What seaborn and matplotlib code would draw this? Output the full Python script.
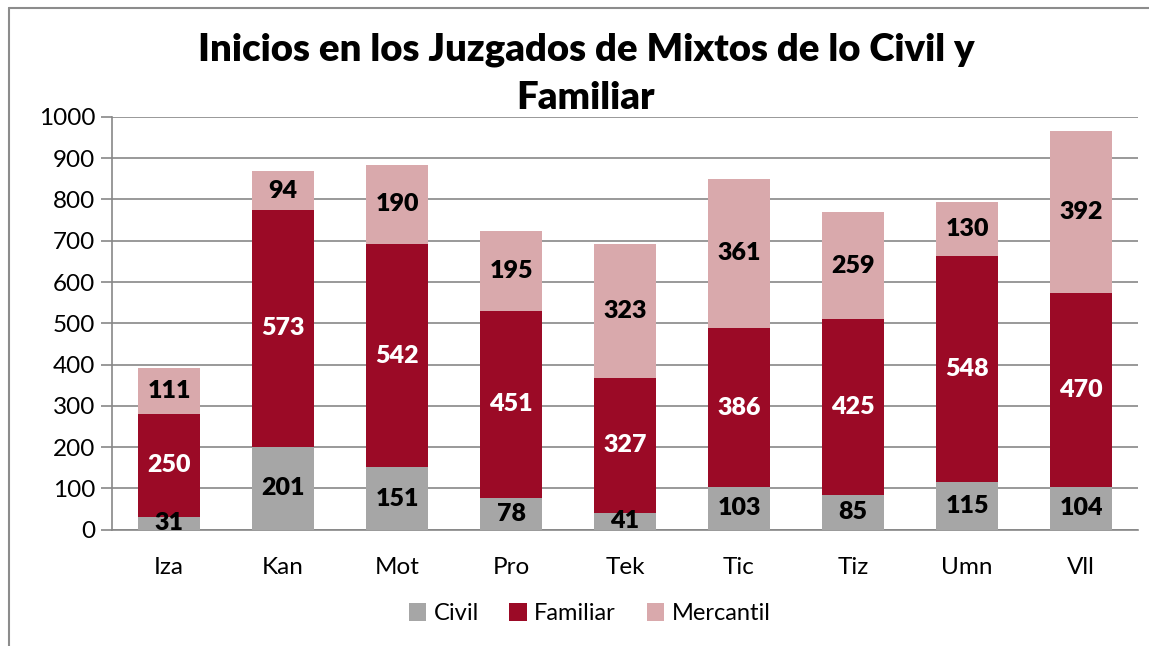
import numpy as np
import pandas as pd
import matplotlib
matplotlib.use('Agg')
import matplotlib.pyplot as plt
import seaborn as sns
from matplotlib.lines import Line2D
from matplotlib.patches import Patch

# -- Datos --
juzgados = ['Iza', 'Kan', 'Mot', 'Pro', 'Tek', 'Tic', 'Tiz', 'Umn', 'Vll']
civil = [31, 201, 151, 78, 41, 103, 85, 115, 104]
familiar = [250, 573, 542, 451, 327, 386, 425, 548, 470]
mercantil = [111, 94, 190, 195, 323, 361, 259, 130, 392]

series = ['Civil', 'Familiar', 'Mercantil']
colores = ['#A6A6A6', '#9B0A26', '#D9A9AC']
color_texto = ['black', 'white', 'black']

sns.set_theme(style='white')
plt.rcParams['font.family'] = ['Lato', 'DejaVu Sans']
plt.rcParams['text.color'] = 'black'
plt.rcParams['xtick.labelcolor'] = 'black'
plt.rcParams['ytick.labelcolor'] = 'black'

fig = plt.figure(figsize=(11.49, 6.46), dpi=100)
ax = fig.add_axes([0.0975, 0.180, 0.893, 0.639])

valores = [civil, familiar, mercantil]
base = np.zeros(len(juzgados))
for nombre, vals, col, txt in zip(series, valores, colores, color_texto):
    sns.barplot(x=juzgados, y=vals, bottom=base, color=col, width=0.55,
                ax=ax, zorder=3, saturation=1, linewidth=0)
    for i, v in enumerate(vals):
        ax.text(i, base[i] + v / 2, str(v), ha='center', va='center',
                color=txt, fontsize=18, fontweight='heavy', zorder=4)
    base = base + np.array(vals)

ax.set_xlim(-0.5, len(juzgados) - 0.5)
ax.set_ylim(0, 1000)
ax.set_yticks(range(0, 1001, 100))
ax.yaxis.grid(True, color='#878787', linewidth=1.2, zorder=0)
ax.set_axisbelow(True)

for s in ['top', 'right']:
    ax.spines[s].set_visible(False)
for s in ['left', 'bottom']:
    ax.spines[s].set_color('#878787')
    ax.spines[s].set_linewidth(1.2)

ax.set_xticks(np.arange(-0.5, len(juzgados), 1), minor=True)
ax.tick_params(axis='x', which='major', length=0, labelsize=17.5, pad=20,
               labelcolor='black')
ax.tick_params(axis='x', which='minor', length=7, width=1.2,
               color='#878787', direction='out')
ax.tick_params(axis='y', length=8, width=1.2, color='#878787',
               labelsize=17.5, left=True, pad=4, labelcolor='black')
ax.set_xlabel('')
ax.set_ylabel('')

fig.suptitle('Inicios en los Juzgados de Mixtos de lo Civil y\nFamiliar',
             x=0.51, y=0.95, fontsize=27.5, fontweight='heavy',
             linespacing=1.5, color='black')

handles = [Patch(facecolor=c, edgecolor='none') for c in colores]
fig.legend(handles, series, loc='center', bbox_to_anchor=(0.513, 0.05),
           ncol=3, frameon=False, fontsize=17, handlelength=0.75,
           handleheight=0.75, handletextpad=0.3, columnspacing=1.3,
           labelcolor='black')

# Marco del gráfico
fig.add_artist(Line2D([0.008, 0.008], [0.0, 0.988], color='#8C8C8C',
                      linewidth=1.5, transform=fig.transFigure))
fig.add_artist(Line2D([0.008, 1.0], [0.988, 0.988], color='#8C8C8C',
                      linewidth=1.5, transform=fig.transFigure))

fig.savefig('out.png', dpi=100)
